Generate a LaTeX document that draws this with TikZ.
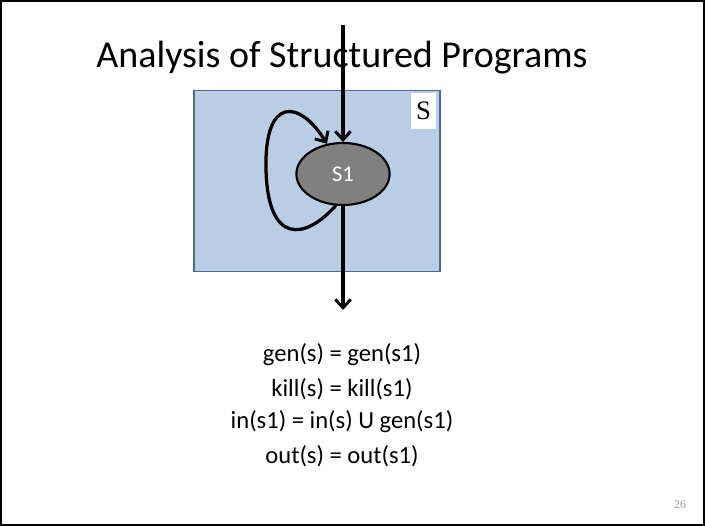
\documentclass[tikz,border=0pt]{standalone}
\usepackage{fontspec}
\setmainfont{Carlito}
\newfontfamily\serifnum{Liberation Serif}
\usetikzlibrary{shapes.geometric,arrows.meta}
\definecolor{regionblue}{HTML}{B9CDE5}
\definecolor{regionedge}{HTML}{4A6B96}
\definecolor{stmtgray}{HTML}{808080}
\tikzset{
  flow/.style={line width=2.3pt, -{Straight Barb[length=6pt,width=11pt,line width=2.1pt]}},
  region/.style={draw=regionedge, fill=regionblue, line width=0.9pt, inner sep=0pt},
  stmt/.style={ellipse, draw=black, fill=stmtgray, line width=1.5pt, inner sep=0pt,
    minimum width=2.33cm, minimum height=1.55cm, text=white, font=\fontsize{16}{18}\selectfont},
  eqn/.style={font=\fontsize{17.5}{20}\selectfont, inner sep=0pt}
}
\begin{document}
\begin{tikzpicture}[x=0.025cm, y=-0.025cm]
    % Marco
    \draw[line width=1.4pt] (1,1) rectangle (704,525);
    \useasboundingbox (0,0) rectangle (705,526);
    % Titulo
    \node[font=\fontsize{27}{30}\selectfont] (title) at (342,58) {Analysis of Structured Programs};
    % Region S
    \node[region, minimum width=6.15cm, minimum height=4.52cm] (blk) at (317,181) {};
    \node[fill=white, inner sep=0pt, minimum width=0.62cm, minimum height=0.9cm,
      font=\serifnum\fontsize{19}{21}\selectfont] (sname) at (423.5,111) {S};
    % Sentencia
    \node[stmt] (s1) at (343,174) {S1};
    \coordinate (top) at (343,25);
    \coordinate (bot) at (343,310);
    % Flechas
    \draw[flow] (top) -- (s1.north);
    \draw[flow] (s1.south) -- (bot);
    \draw[flow] (s1.257) .. controls (305,240) and (268,245) .. (266,170)
      .. controls (264,95) and (300,100) .. (s1.118);
    % Ecuaciones
    \node[eqn] (e1) at (342,355) {gen(s) = gen(s1)};
    \node[eqn] (e2) at (342,389) {kill(s) = kill(s1)};
    \node[eqn] (e3) at (342,422) {in(s1) = in(s) U gen(s1)};
    \node[eqn] (e4) at (342,456) {out(s) = out(s1)};
    % Numero
    \node[text=gray!80, font=\serifnum\fontsize{8.5}{10}\selectfont] (num) at (680,505) {26};
\end{tikzpicture}
\end{document}
